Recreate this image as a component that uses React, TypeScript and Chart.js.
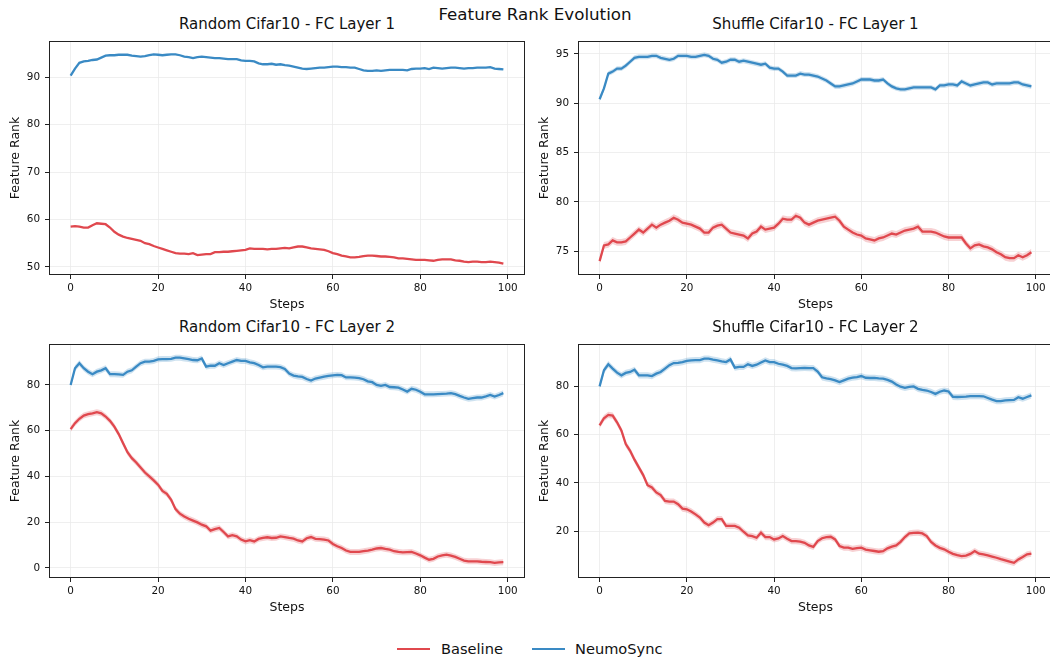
import React, { useEffect, useRef } from "react";
import { Chart, registerables } from "chart.js";

Chart.register(...registerables);

const FONT = "'DejaVu Sans', sans-serif";
const RED = "rgb(224,72,78)";
const RED_BAND = "rgba(224,72,78,0.25)";
const BLUE = "rgb(58,138,196)";
const BLUE_BAND = "rgba(58,138,196,0.25)";
const TEXT = "#111";

// ---------- data ----------
const figureTitle = "Feature Rank Evolution";
const seriesNames = ["Baseline", "NeumoSync"];
const xTicks = [0, 20, 40, 60, 80, 100];

const p1Title = "Random Cifar10 - FC Layer 1";
const p1Base = [
  58.5, 58.6, 58.5, 58.3, 58.3, 58.8, 59.2, 59.1, 59.0, 58.3,
  57.4, 56.8, 56.4, 56.1, 55.9, 55.7, 55.5, 55.0, 54.8, 54.4,
  54.1, 53.8, 53.5, 53.2, 52.9, 52.8, 52.8, 52.7, 52.9, 52.5,
  52.6, 52.7, 52.7, 53.1, 53.1, 53.2, 53.2, 53.3, 53.4, 53.5,
  53.6, 53.9, 53.8, 53.8, 53.8, 53.7, 53.8, 53.8, 53.9, 54.0,
  53.9, 54.1, 54.3, 54.3, 54.1, 53.9, 53.8, 53.7, 53.6, 53.3,
  52.9, 52.7, 52.4, 52.2, 52.0, 52.0, 52.1, 52.3, 52.4, 52.4,
  52.3, 52.2, 52.2, 52.1, 52.0, 51.8, 51.8, 51.7, 51.6, 51.5,
  51.5, 51.5, 51.4, 51.3, 51.5, 51.6, 51.6, 51.6, 51.4, 51.3,
  51.1, 51.0, 51.1, 51.1, 51.0, 51.0, 51.1, 51.0, 50.9, 50.7,
];
const p1Neumo = [
  90.3, 91.8, 93.0, 93.3, 93.4, 93.6, 93.7, 94.1, 94.5, 94.6,
  94.6, 94.7, 94.7, 94.7, 94.5, 94.4, 94.3, 94.4, 94.6, 94.8,
  94.7, 94.6, 94.7, 94.8, 94.8, 94.6, 94.3, 94.2, 94.0, 94.2,
  94.3, 94.2, 94.1, 94.0, 94.0, 93.9, 93.8, 93.8, 93.8, 93.5,
  93.4, 93.4, 93.3, 92.9, 92.7, 92.7, 92.8, 92.6, 92.7, 92.5,
  92.4, 92.2, 92.0, 91.8, 91.7, 91.8, 91.9, 92.0, 92.0, 92.1,
  92.2, 92.2, 92.1, 92.1, 92.0, 92.0, 91.7, 91.4, 91.3, 91.3,
  91.4, 91.3, 91.4, 91.5, 91.5, 91.5, 91.5, 91.4, 91.7, 91.8,
  91.8, 91.9, 91.7, 92.0, 91.9, 91.8, 91.9, 92.0, 92.0, 91.9,
  91.8, 91.9, 91.9, 92.0, 92.0, 92.0, 92.1, 91.8, 91.7, 91.6,
];
const p1BaseStd = 0.1;
const p1NeumoStd = 0.1;
const p1YTicks = [50, 60, 70, 80, 90];
const p1YRange = [48.3, 97.6];

const p2Title = "Shuffle Cifar10 - FC Layer 1";
const p2Base = [
  74.0, 75.6, 75.7, 76.1, 75.9, 75.9, 76.0, 76.4, 76.8, 77.2,
  76.9, 77.3, 77.7, 77.4, 77.7, 77.9, 78.1, 78.4, 78.2, 77.9,
  77.8, 77.7, 77.5, 77.3, 76.9, 76.9, 77.4, 77.6, 77.7, 77.3,
  76.9, 76.8, 76.7, 76.6, 76.3, 76.8, 77.0, 77.5, 77.2, 77.3,
  77.4, 77.8, 78.3, 78.2, 78.2, 78.6, 78.4, 77.9, 77.7, 77.9,
  78.1, 78.2, 78.3, 78.4, 78.5, 78.1, 77.5, 77.2, 76.9, 76.7,
  76.6, 76.3, 76.2, 76.1, 76.3, 76.4, 76.6, 76.8, 76.7, 76.9,
  77.1, 77.2, 77.3, 77.5, 77.0, 77.0, 77.0, 76.9, 76.7, 76.5,
  76.4, 76.4, 76.4, 76.4, 75.8, 75.3, 75.6, 75.7, 75.5, 75.4,
  75.2, 74.9, 74.7, 74.4, 74.3, 74.3, 74.6, 74.4, 74.6, 74.9,
];
const p2Neumo = [
  90.4, 91.5, 93.0, 93.2, 93.5, 93.5, 93.8, 94.2, 94.6, 94.7,
  94.7, 94.7, 94.8, 94.8, 94.6, 94.5, 94.4, 94.5, 94.8, 94.8,
  94.8, 94.7, 94.7, 94.8, 94.9, 94.8, 94.5, 94.4, 94.1, 94.2,
  94.4, 94.4, 94.2, 94.3, 94.2, 94.1, 94.0, 93.9, 94.0, 93.6,
  93.5, 93.5, 93.2, 92.8, 92.8, 92.8, 93.0, 92.9, 92.9, 92.8,
  92.7, 92.5, 92.3, 92.0, 91.7, 91.7, 91.8, 91.9, 92.0, 92.2,
  92.4, 92.4, 92.4, 92.3, 92.3, 92.4, 92.0, 91.7, 91.5, 91.4,
  91.4, 91.5, 91.6, 91.6, 91.6, 91.6, 91.6, 91.4, 91.8, 91.8,
  91.9, 91.9, 91.8, 92.2, 92.0, 91.8, 91.9, 92.0, 92.1, 92.1,
  91.9, 92.0, 92.0, 92.0, 92.0, 92.1, 92.1, 91.9, 91.8, 91.7,
];
const p2BaseStd = 0.35;
const p2NeumoStd = 0.25;
const p2YTicks = [75, 80, 85, 90, 95];
const p2YRange = [72.6, 96.3];

const p3Title = "Random Cifar10 - FC Layer 2";
const p3Base = [
  60.7, 63.3, 65.2, 66.6, 67.2, 67.6, 68.1, 67.6, 66.2, 64.3,
  61.8, 58.5, 54.5, 50.6, 48.0, 46.1, 43.9, 41.7, 40.0, 38.3,
  36.4, 33.7, 32.4, 29.8, 25.7, 23.7, 22.5, 21.5, 20.7, 19.9,
  18.9, 18.2, 16.3, 17.0, 17.5, 15.7, 13.8, 14.3, 13.8, 12.4,
  11.6, 12.1, 11.6, 12.7, 13.1, 13.4, 13.1, 13.2, 13.8, 13.5,
  13.1, 12.8, 12.0, 11.6, 13.0, 13.5, 12.7, 12.6, 12.4, 12.0,
  10.5, 9.5, 8.7, 7.6, 7.0, 7.0, 7.0, 7.3, 7.6, 8.0,
  8.5, 8.7, 8.3, 8.0, 7.3, 7.0, 6.8, 6.9, 7.0, 6.3,
  5.5, 4.5, 3.6, 4.0, 5.0, 5.5, 5.8, 5.4, 4.8, 4.0,
  3.2, 2.9, 2.9, 2.9, 2.7, 2.6, 2.5, 2.2, 2.4, 2.5,
];
const p3Neumo = [
  80.0, 87.3, 89.5, 87.3, 85.8, 84.7, 85.8, 86.4, 87.3, 84.7,
  84.7, 84.6, 84.4, 85.8, 86.4, 88.0, 89.5, 90.2, 90.2, 90.5,
  91.2, 91.3, 91.3, 91.4, 91.9, 91.9, 91.6, 91.3, 90.9, 90.8,
  91.6, 88.0, 88.4, 88.4, 89.5, 88.7, 89.5, 90.2, 90.9, 90.5,
  90.5, 89.9, 89.5, 88.7, 87.7, 88.0, 88.0, 88.0, 87.8, 87.0,
  85.0, 84.1, 83.7, 83.5, 82.6, 81.9, 82.8, 83.2, 83.6, 84.0,
  84.2, 84.4, 84.3, 83.3, 83.3, 83.2, 83.0, 82.5, 81.6, 81.2,
  80.0, 79.6, 80.0, 79.1, 79.0, 78.8, 78.0, 77.1, 78.3, 77.9,
  77.0, 75.9, 75.9, 75.9, 76.0, 76.1, 76.2, 76.4, 76.0, 75.2,
  74.5, 73.9, 74.2, 74.5, 74.5, 75.0, 75.6, 74.9, 75.6, 76.4,
];
const p3BaseStd = 1.3;
const p3NeumoStd = 1.3;
const p3YTicks = [0, 20, 40, 60, 80];
const p3YRange = [-4.4, 97.9];

const p4Title = "Shuffle Cifar10 - FC Layer 2";
const p4Base = [
  63.8, 66.8, 68.2, 67.9, 65.1, 61.7, 56.1, 53.3, 49.6, 46.4,
  43.2, 39.0, 38.1, 36.0, 34.9, 32.5, 32.2, 32.2, 31.1, 29.3,
  29.0, 28.1, 26.9, 25.6, 23.5, 22.4, 23.5, 24.9, 24.9, 22.1,
  22.1, 22.1, 21.4, 19.7, 18.2, 17.9, 17.2, 19.3, 17.5, 17.5,
  16.5, 16.9, 17.9, 16.8, 15.8, 15.8, 15.6, 15.1, 14.0, 13.4,
  15.8, 17.0, 17.5, 17.6, 16.5, 13.8, 13.1, 13.1, 12.6, 12.9,
  13.1, 12.3, 12.0, 11.7, 11.4, 11.6, 12.8, 13.5, 14.0, 15.5,
  17.5, 19.0, 19.2, 19.3, 19.0, 17.9, 15.5, 14.0, 13.0, 12.4,
  11.4, 10.5, 10.0, 9.6, 9.8, 10.5, 11.7, 10.6, 10.3, 9.9,
  9.4, 8.9, 8.3, 7.8, 7.3, 6.8, 8.2, 9.2, 10.3, 10.6,
];
const p4Neumo = [
  80.0, 86.7, 89.2, 87.4, 85.7, 84.6, 85.6, 86.0, 86.9, 84.6,
  84.6, 84.6, 84.3, 85.3, 86.0, 87.4, 88.8, 89.7, 89.8, 90.1,
  90.6, 90.8, 90.9, 90.9, 91.5, 91.5, 91.1, 90.8, 90.4, 90.1,
  91.2, 87.8, 88.1, 88.1, 89.2, 88.5, 89.0, 89.9, 90.8, 90.1,
  90.1, 89.4, 89.0, 88.5, 87.6, 87.5, 87.6, 87.7, 87.6, 87.6,
  86.2, 83.8, 83.3, 83.0, 82.5, 81.8, 82.5, 83.2, 83.6, 83.9,
  84.3, 83.6, 83.5, 83.5, 83.3, 83.2, 82.7, 82.0, 80.8, 79.9,
  79.4, 79.8, 80.0, 79.0, 78.6, 78.3, 77.7, 76.9, 77.8, 78.3,
  77.9, 75.7, 75.6, 75.7, 75.8, 76.0, 76.0, 76.0, 75.9, 75.2,
  74.5, 73.9, 73.9, 74.2, 74.3, 74.4, 75.5, 74.9, 75.6, 76.3,
];
const p4BaseStd = 1.3;
const p4NeumoStd = 1.3;
const p4YTicks = [20, 40, 60, 80];
const p4YRange = [0.5, 97.6];

const xRange = [-4.95, 103.95];
const xLabel = "Steps";
const yLabel = "Feature Rank";

// ---------- layout ----------
type PanelDef = {
  title: string;
  base: number[];
  neumo: number[];
  baseStd: number;
  neumoStd: number;
  yTicks: number[];
  yRange: number[];
  left: number;
  top: number;
  width: number;
};

const CANVAS_H = 277;
const Y_AXIS_W = 49;
const X_AXIS_H = 38;
const PAD_TOP = 5;
const PAD_RIGHT = 6;

const panels: PanelDef[] = [
  { title: p1Title, base: p1Base, neumo: p1Neumo, baseStd: p1BaseStd, neumoStd: p1NeumoStd, yTicks: p1YTicks, yRange: p1YRange, left: 0, top: 36, width: 531 },
  { title: p2Title, base: p2Base, neumo: p2Neumo, baseStd: p2BaseStd, neumoStd: p2NeumoStd, yTicks: p2YTicks, yRange: p2YRange, left: 529, top: 36, width: 530 },
  { title: p3Title, base: p3Base, neumo: p3Neumo, baseStd: p3BaseStd, neumoStd: p3NeumoStd, yTicks: p3YTicks, yRange: p3YRange, left: 0, top: 339, width: 531 },
  { title: p4Title, base: p4Base, neumo: p4Neumo, baseStd: p4BaseStd, neumoStd: p4NeumoStd, yTicks: p4YTicks, yRange: p4YRange, left: 529, top: 339, width: 530 },
];

const framePlugin = {
  id: "frame",
  afterDraw(chart: any) {
    const { ctx, chartArea } = chart;
    const { left, top, right, bottom } = chartArea;
    ctx.save();
    ctx.strokeStyle = "#222";
    ctx.lineWidth = 1;
    ctx.strokeRect(Math.round(left) + 0.5, Math.round(top) + 0.5, Math.round(right - left) - 1, Math.round(bottom - top) - 1);
    ctx.restore();
  },
};

function toPts(arr: number[], offset: number) {
  return arr.map((v, i) => ({ x: i, y: v + offset }));
}

function Panel({ p }: { p: PanelDef }) {
  const ref = useRef<HTMLCanvasElement | null>(null);
  useEffect(() => {
    if (!ref.current) return;
    const common = { pointRadius: 0, tension: 0 };
    const chart = new Chart(ref.current, {
      type: "line",
      data: {
        datasets: [
          { ...common, data: toPts(p.neumo, 0), borderColor: BLUE, borderWidth: 2.3, fill: false },
          { ...common, data: toPts(p.neumo, -p.neumoStd), borderWidth: 0, borderColor: "rgba(0,0,0,0)", fill: false },
          { ...common, data: toPts(p.neumo, p.neumoStd), borderWidth: 0, borderColor: "rgba(0,0,0,0)", backgroundColor: BLUE_BAND, fill: "-1" },
          { ...common, data: toPts(p.base, 0), borderColor: RED, borderWidth: 2.3, fill: false },
          { ...common, data: toPts(p.base, -p.baseStd), borderWidth: 0, borderColor: "rgba(0,0,0,0)", fill: false },
          { ...common, data: toPts(p.base, p.baseStd), borderWidth: 0, borderColor: "rgba(0,0,0,0)", backgroundColor: RED_BAND, fill: "-1" },
        ] as any,
      },
      options: {
        animation: false,
        responsive: false,
        maintainAspectRatio: false,
        devicePixelRatio: 1,
        events: [],
        layout: { padding: { top: PAD_TOP, right: PAD_RIGHT, left: 0, bottom: 0 } },
        plugins: { legend: { display: false }, title: { display: false }, tooltip: { enabled: false } },
        scales: {
          x: {
            type: "linear",
            min: xRange[0],
            max: xRange[1],
            afterBuildTicks: (a: any) => {
              a.ticks = xTicks.map((v) => ({ value: v }));
            },
            afterFit: (s: any) => {
              s.height = X_AXIS_H;
              s.paddingLeft = 0;
              s.paddingRight = 0;
              s.paddingTop = 0;
              s.paddingBottom = 0;
            },
            grid: { color: "#ebebeb", lineWidth: 0.8, tickColor: "#222", tickLength: 4, tickWidth: 1, drawTicks: true },
            border: { display: false },
            ticks: { font: { family: FONT, size: 10.4 }, color: TEXT, padding: 3, maxRotation: 0, autoSkip: false, callback: (v: any) => String(v) },
            title: { display: true, text: xLabel, font: { family: FONT, size: 12.5 }, color: TEXT, padding: { top: 0, bottom: 0.5 } },
          },
          y: {
            type: "linear",
            min: p.yRange[0],
            max: p.yRange[1],
            afterBuildTicks: (a: any) => {
              a.ticks = p.yTicks.map((v) => ({ value: v }));
            },
            afterFit: (s: any) => {
              s.width = Y_AXIS_W;
              s.paddingLeft = 0;
              s.paddingRight = 0;
              s.paddingTop = 0;
              s.paddingBottom = 0;
            },
            grid: { color: "#ebebeb", lineWidth: 0.8, tickColor: "#222", tickLength: 4, tickWidth: 1, drawTicks: true },
            border: { display: false },
            ticks: { font: { family: FONT, size: 10.4 }, color: TEXT, padding: 5, autoSkip: false, callback: (v: any) => String(v) },
            title: { display: true, text: yLabel, font: { family: FONT, size: 12.5 }, color: TEXT, padding: { top: 8.5, bottom: 0 } },
          },
        },
      } as any,
      plugins: [framePlugin],
    });
    return () => chart.destroy();
  }, [p]);

  const chartLeft = p.left + Y_AXIS_W;
  const chartW = p.width - Y_AXIS_W - PAD_RIGHT;
  const chartTop = p.top + PAD_TOP;
  return (
    <>
      <div
        style={{
          position: "absolute",
          left: chartLeft,
          width: chartW,
          top: chartTop - 17 - 10,
          height: 20,
          lineHeight: "20px",
          textAlign: "center",
          fontSize: 15,
          color: TEXT,
          whiteSpace: "nowrap",
        }}
      >
        {p.title}
      </div>
      <canvas
        ref={ref}
        width={p.width}
        height={CANVAS_H}
        style={{ position: "absolute", left: p.left, top: p.top, width: p.width, height: CANVAS_H }}
      />
    </>
  );
}

function LegendItem({ color, label, lineLeft, textLeft }: { color: string; label: string; lineLeft: number; textLeft: number }) {
  return (
    <>
      <div style={{ position: "absolute", left: lineLeft, top: 648, width: 33, height: 2.3, background: color }} />
      <div style={{ position: "absolute", left: textLeft, top: 639, height: 20, lineHeight: "20px", fontSize: 14.6, color: TEXT, whiteSpace: "nowrap" }}>
        {label}
      </div>
    </>
  );
}

export default function App() {
  return (
    <div
      style={{
        position: "fixed",
        left: 0,
        top: 0,
        width: 1050,
        height: 657,
        overflow: "hidden",
        background: "#fff",
        fontFamily: FONT,
      }}
    >
      <div
        style={{
          position: "absolute",
          left: 335,
          width: 400,
          top: 3,
          height: 22,
          lineHeight: "22px",
          textAlign: "center",
          fontSize: 16.7,
          color: TEXT,
        }}
      >
        {figureTitle}
      </div>
      {panels.map((p, i) => (
        <Panel key={i} p={p} />
      ))}
      <LegendItem color={RED} label={seriesNames[0]} lineLeft={397} textLeft={441} />
      <LegendItem color={BLUE} label={seriesNames[1]} lineLeft={532} textLeft={575} />
    </div>
  );
}
